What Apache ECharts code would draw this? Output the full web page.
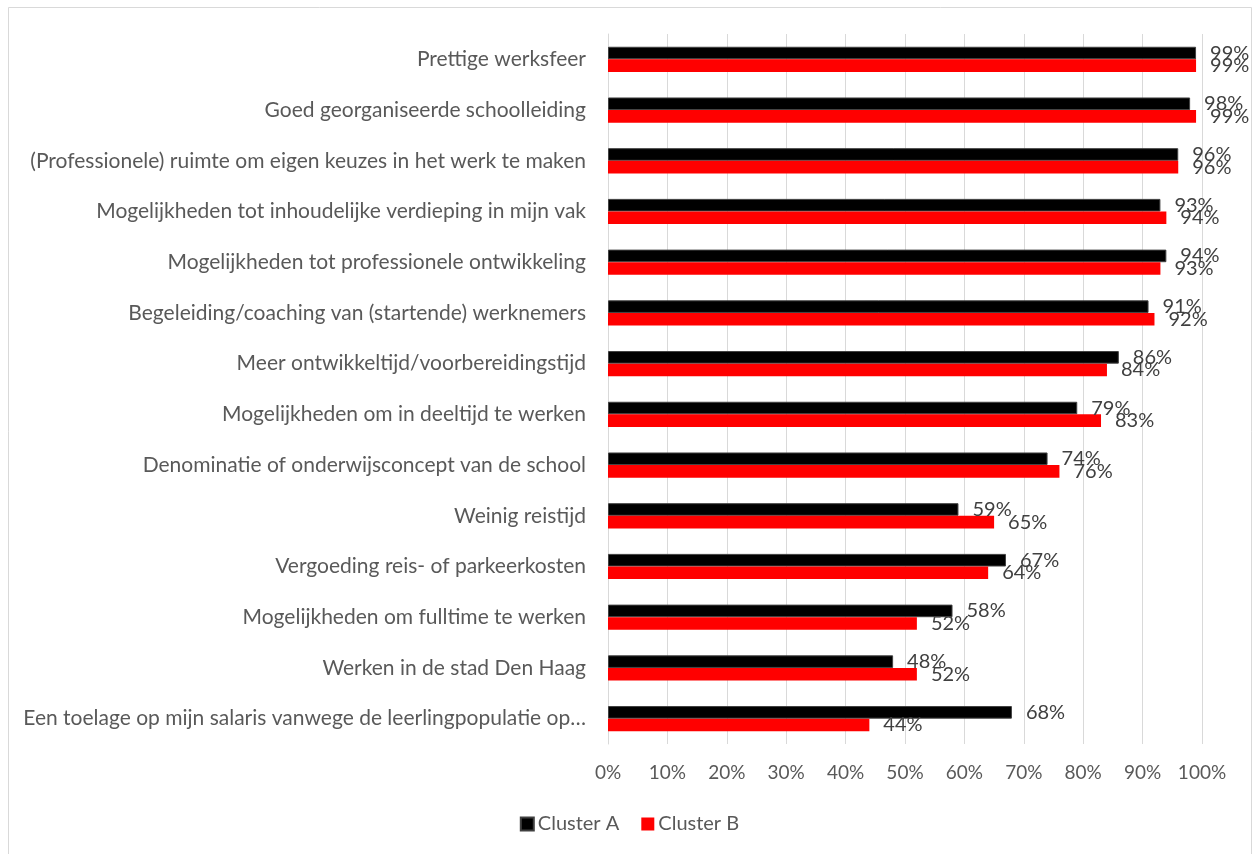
<!DOCTYPE html>
<html>
<head>
<meta charset="utf-8">
<script src="https://cdn.jsdelivr.net/npm/echarts@6/dist/echarts.min.js"></script>
<style>
  html, body { margin: 0; padding: 0; background: #ffffff; }
  #chart { width: 1259px; height: 854px; }
</style>
</head>
<body>
<div id="chart"></div>
<script>
// Factors, top to bottom
const categories = [
  'Prettige werksfeer',
  'Goed georganiseerde schoolleiding',
  '(Professionele) ruimte om eigen keuzes in het werk te maken',
  'Mogelijkheden tot inhoudelijke verdieping in mijn vak',
  'Mogelijkheden tot professionele ontwikkeling',
  'Begeleiding/coaching van (startende) werknemers',
  'Meer ontwikkeltijd/voorbereidingstijd',
  'Mogelijkheden om in deeltijd te werken',
  'Denominatie of onderwijsconcept van de school',
  'Weinig reistijd',
  'Vergoeding reis- of parkeerkosten',
  'Mogelijkheden om fulltime te werken',
  'Werken in de stad Den Haag',
  'Een toelage op mijn salaris vanwege de leerlingpopulatie op…'
];

// Share of respondents (%) per cluster
const clusterA = [99, 98, 96, 93, 94, 91, 86, 79, 74, 59, 67, 58, 48, 68];
const clusterB = [99, 99, 96, 94, 93, 92, 84, 83, 76, 65, 64, 52, 52, 44];

const seriesNames = ['Cluster A', 'Cluster B'];
const axisTicks = [0, 10, 20, 30, 40, 50, 60, 70, 80, 90, 100];

const FONT = 'Lato';
const TEXT = '#595959';

const chart = echarts.init(document.getElementById('chart'), null, { renderer: 'canvas' });

const labelCfg = {
  show: true,
  position: 'right',
  distance: 14,
  formatter: p => p.value + '%',
  color: '#404040',
  fontFamily: FONT,
  fontSize: 20
};

chart.setOption({
  animation: false,
  backgroundColor: '#ffffff',
  graphic: [{
    type: 'rect',
    shape: { x: 8.5, y: 7.5, width: 1243, height: 900 },
    style: { fill: 'none', stroke: '#d9d9d9', lineWidth: 1 },
    silent: true
  }],
  grid: { left: 608, right: 57, top: 34, bottom: 110, containLabel: false },
  legend: {
    data: seriesNames,
    bottom: 15,
    left: 'center',
    itemWidth: 13,
    itemHeight: 13,
    itemGap: 22,
    icon: 'rect',
    textStyle: { color: TEXT, fontFamily: FONT, fontSize: 20, padding: [0, 0, 0, -1] }
  },
  xAxis: {
    type: 'value',
    min: axisTicks[0],
    max: axisTicks[axisTicks.length - 1],
    interval: axisTicks[1] - axisTicks[0],
    axisLine: { show: false },
    axisTick: { show: false },
    splitLine: { show: true, lineStyle: { color: '#d9d9d9', width: 1 } },
    axisLabel: {
      formatter: v => v + '%',
      color: TEXT,
      fontFamily: FONT,
      fontSize: 19,
      margin: 19
    }
  },
  yAxis: {
    type: 'category',
    data: categories,
    inverse: true,
    axisLine: { show: true, lineStyle: { color: '#d9d9d9', width: 1 } },
    axisTick: { show: false },
    axisLabel: {
      color: TEXT,
      fontFamily: FONT,
      fontSize: 21,
      margin: 22
    }
  },
  series: [
    {
      name: seriesNames[0],
      type: 'bar',
      data: clusterA,
      barWidth: 12.6,
      barGap: '0%',
      itemStyle: { color: '#000000', borderColor: '#404040', borderWidth: 1 },
      label: labelCfg
    },
    {
      name: seriesNames[1],
      type: 'bar',
      data: clusterB,
      barWidth: 12.6,
      barGap: '0%',
      itemStyle: { color: '#ff0000' },
      label: labelCfg
    }
  ]
});
</script>
</body>
</html>
